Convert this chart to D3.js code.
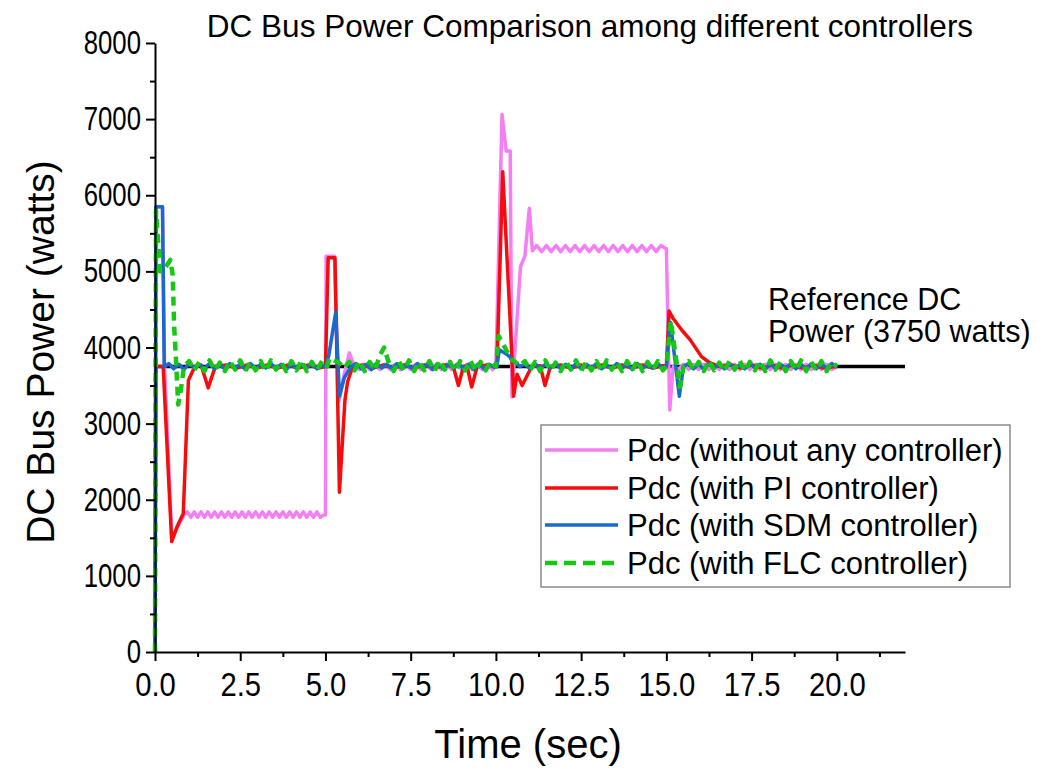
<!DOCTYPE html>
<html>
<head>
<meta charset="utf-8">
<script src="https://cdn.jsdelivr.net/npm/d3@7"></script>
<style>
  body { margin: 0; background: #fff; }
  text { font-family: "Liberation Sans", Arial, sans-serif; fill: #000; }
</style>
</head>
<body>
<div id="chart"></div>
<script>
var width = 1054,
    height = 769;

// time (sec), power (watts)
var pinkData = [
  [0,0],[0.03,5850],[0.22,5850],[0.28,3750],[0.49,1500],[0.85,1800],
  [0.95,1840],[1.05,1770],[1.15,1840],[1.25,1770],[1.35,1840],[1.45,1770],[1.55,1840],[1.65,1770],[1.75,1840],[1.85,1770],
  [1.95,1840],[2.05,1770],[2.15,1840],[2.25,1770],[2.35,1840],[2.45,1770],[2.55,1840],[2.65,1770],[2.75,1840],[2.85,1770],
  [2.95,1840],[3.05,1770],[3.15,1840],[3.25,1770],[3.35,1840],[3.45,1770],[3.55,1840],[3.65,1770],[3.75,1840],[3.85,1770],
  [3.95,1840],[4.05,1770],[4.15,1840],[4.25,1770],[4.35,1840],[4.45,1770],[4.55,1840],[4.65,1770],[4.75,1840],[4.85,1770],
  [4.95,1800],[5.0,1800],[5.02,5200],[5.26,5200],[5.4,3300],[5.55,3650],[5.7,3930],[5.85,3750],
  [6.0,3710],[6.15,3780],[6.3,3710],[6.45,3780],[6.6,3710],[6.75,3780],[6.9,3710],[7.05,3780],[7.2,3710],[7.35,3780],
  [7.5,3710],[7.65,3780],[7.8,3710],[7.95,3780],[8.1,3710],[8.25,3780],[8.4,3710],[8.55,3780],[8.7,3710],[8.85,3780],
  [9.0,3710],[9.15,3780],[9.3,3710],[9.45,3780],[9.6,3710],[9.75,3780],[9.9,3710],
  [10.0,3750],[10.18,7060],[10.3,6580],[10.42,6580],[10.47,3350],[10.72,5060],[10.85,5200],[10.98,5830],[11.07,5270],
  [11.2,5340],[11.34,5260],[11.48,5340],[11.62,5260],[11.76,5340],[11.9,5260],[12.04,5340],[12.18,5260],[12.32,5340],
  [12.46,5260],[12.6,5340],[12.74,5260],[12.88,5340],[13.02,5260],[13.16,5340],[13.3,5260],[13.44,5340],[13.58,5260],
  [13.72,5340],[13.86,5260],[14.0,5340],[14.14,5260],[14.28,5340],[14.42,5260],[14.56,5340],[14.7,5260],[14.84,5340],
  [14.98,5300],[15.0,5300],[15.1,3180],[15.2,3750],
  [15.35,3710],[15.5,3780],[15.65,3710],[15.8,3780],[15.95,3710],[16.1,3780],[16.25,3710],[16.4,3780],[16.55,3710],
  [16.7,3780],[16.85,3710],[17.0,3780],[17.15,3710],[17.3,3780],[17.45,3710],[17.6,3780],[17.75,3710],[17.9,3780],
  [18.05,3710],[18.2,3780],[18.35,3710],[18.5,3780],[18.65,3710],[18.8,3780],[18.95,3710],[19.1,3780],[19.25,3710],
  [19.4,3780],[19.55,3710],[19.7,3780],[19.85,3710],[20.0,3750]
];

var redData = [
  [0,0],[0.03,3750],[0.24,3750],[0.49,1450],[0.66,1660],[0.83,1820],[0.98,3570],[1.17,3750],[1.35,3770],[1.56,3470],[1.77,3750],
  [2.1,3770],[2.4,3730],[2.7,3770],[3.0,3730],[3.3,3770],[3.6,3730],[3.9,3770],[4.2,3730],[4.5,3770],[4.8,3730],
  [5.0,3750],[5.08,5180],[5.28,5180],[5.41,2100],[5.57,3300],[5.65,3550],[5.8,3750],
  [6.1,3770],[6.4,3730],[6.7,3770],[7.0,3730],[7.3,3770],[7.6,3730],[7.9,3770],[8.2,3730],[8.5,3770],
  [8.75,3750],[8.9,3500],[9.05,3750],[9.15,3760],[9.29,3480],[9.45,3750],[9.75,3770],
  [10.03,3750],[10.2,6310],[10.47,3880],[10.52,3360],[10.62,3650],[10.77,3500],[11.05,3750],[11.3,3760],[11.44,3500],[11.6,3750],
  [11.9,3770],[12.2,3730],[12.5,3770],[12.8,3730],[13.1,3770],[13.4,3730],[13.7,3770],[14.0,3730],[14.3,3770],[14.6,3730],[14.9,3760],
  [15.0,3750],[15.08,4480],[15.2,4380],[15.45,4230],[15.7,4100],[16.03,3880],[16.27,3800],[16.55,3750],
  [16.9,3770],[17.2,3730],[17.5,3770],[17.8,3730],[18.1,3770],[18.4,3730],[18.7,3770],[19.0,3730],[19.3,3770],[19.6,3730],[20.0,3750]
];

var blueData = [
  [0,0],[0.03,5850],[0.22,5850],[0.27,3740],
  [0.4,3790],[0.55,3720],[0.7,3780],[0.85,3710],[1.0,3790],[1.15,3730],[1.3,3780],[1.45,3720],[1.6,3790],[1.75,3720],
  [1.9,3770],[2.05,3720],[2.2,3790],[2.35,3730],[2.5,3780],[2.65,3710],[2.8,3790],[2.95,3720],[3.1,3780],[3.25,3730],
  [3.4,3790],[3.55,3720],[3.7,3780],[3.85,3710],[4.0,3790],[4.15,3720],[4.3,3780],[4.45,3730],[4.6,3790],[4.75,3720],[4.9,3770],
  [5.0,3750],[5.1,3900],[5.3,4460],[5.41,3360],[5.55,3600],[5.75,3750],
  [5.9,3790],[6.05,3720],[6.2,3780],[6.35,3710],[6.5,3790],[6.65,3730],[6.8,3780],[6.95,3720],[7.1,3790],[7.25,3720],
  [7.4,3770],[7.55,3720],[7.7,3790],[7.85,3730],[8.0,3780],[8.15,3710],[8.3,3790],[8.45,3720],[8.6,3780],[8.75,3730],
  [8.9,3790],[9.05,3720],[9.2,3780],[9.35,3710],[9.5,3790],[9.65,3720],[9.8,3780],[9.95,3740],
  [10.03,3750],[10.1,3970],[10.35,3900],[10.7,3750],
  [10.85,3780],[11.0,3720],[11.15,3790],[11.3,3720],[11.45,3780],[11.6,3730],[11.75,3790],[11.9,3720],[12.05,3780],
  [12.2,3710],[12.35,3790],[12.5,3720],[12.65,3780],[12.8,3730],[12.95,3790],[13.1,3720],[13.25,3770],[13.4,3720],
  [13.55,3790],[13.7,3730],[13.85,3780],[14.0,3710],[14.15,3790],[14.3,3720],[14.45,3780],[14.6,3730],[14.75,3790],[14.9,3720],
  [15.0,3750],[15.12,4330],[15.38,3360],[15.5,3750],
  [15.65,3790],[15.8,3720],[15.95,3780],[16.1,3710],[16.25,3790],[16.4,3730],[16.55,3780],[16.7,3720],[16.85,3790],
  [17.0,3720],[17.15,3770],[17.3,3720],[17.45,3790],[17.6,3730],[17.75,3780],[17.9,3710],[18.05,3790],[18.2,3720],
  [18.35,3780],[18.5,3730],[18.65,3790],[18.8,3720],[18.95,3780],[19.1,3710],[19.25,3790],[19.4,3720],[19.55,3780],
  [19.7,3730],[19.85,3790],[20.0,3740]
];

var greenData = [
  [0,0],[0.03,5800],[0.15,5000],[0.3,5050],[0.45,5150],[0.52,4950],[0.56,4300],[0.62,3800],[0.68,3250],[0.76,3450],[0.85,3750],
  [1.0,3820],[1.15,3700],[1.3,3810],[1.45,3690],[1.6,3830],[1.75,3700],[1.9,3800],[2.05,3690],[2.2,3820],[2.35,3710],
  [2.5,3830],[2.65,3690],[2.8,3810],[2.95,3700],[3.1,3820],[3.25,3690],[3.4,3830],[3.55,3710],[3.7,3810],[3.85,3690],
  [4.0,3820],[4.15,3700],[4.3,3830],[4.45,3690],[4.6,3810],[4.75,3700],[4.9,3820],
  [5.05,3750],[5.12,3860],[5.4,3800],[5.55,3730],
  [5.7,3810],[5.85,3700],[6.0,3820],[6.15,3690],[6.3,3810],[6.45,3700],[6.6,3900],[6.72,4000],[6.85,3810],[7.0,3690],
  [7.15,3820],[7.3,3700],[7.45,3830],[7.6,3690],[7.75,3810],[7.9,3700],[8.05,3820],[8.2,3690],[8.35,3830],[8.5,3710],
  [8.65,3810],[8.8,3690],[8.95,3820],[9.1,3700],[9.25,3830],[9.4,3690],[9.55,3810],[9.7,3700],[9.85,3820],
  [10.0,3750],[10.08,4150],[10.2,4050],[10.45,3850],[10.7,3760],
  [10.85,3820],[11.0,3700],[11.15,3810],[11.3,3690],[11.45,3830],[11.6,3700],[11.75,3800],[11.9,3690],[12.05,3820],
  [12.2,3710],[12.35,3830],[12.5,3690],[12.65,3810],[12.8,3700],[12.95,3820],[13.1,3690],[13.25,3830],[13.4,3710],
  [13.55,3810],[13.7,3690],[13.85,3820],[14.0,3700],[14.15,3830],[14.3,3690],[14.45,3810],[14.6,3700],[14.75,3820],[14.9,3700],
  [15.0,3750],[15.13,4350],[15.4,3480],[15.5,3750],
  [15.65,3820],[15.8,3700],[15.95,3810],[16.1,3690],[16.25,3830],[16.4,3700],[16.55,3800],[16.7,3690],[16.85,3820],
  [17.0,3710],[17.15,3830],[17.3,3690],[17.45,3810],[17.6,3700],[17.75,3820],[17.9,3690],[18.05,3830],[18.2,3710],
  [18.35,3810],[18.5,3690],[18.65,3820],[18.8,3700],[18.95,3830],[19.1,3690],[19.25,3810],[19.4,3700],[19.55,3820],
  [19.7,3690],[19.85,3810],[20.0,3750]
];

var refData = [[0,3750],[22,3750]];

var seriesNames = ["Pdc (without any controller)", "Pdc (with PI controller)",
                   "Pdc (with SDM controller)", "Pdc (with FLC controller)"];
var seriesColors = ["#f47ef4", "#f50d0d", "#1a69cf", "#14c814"];

var xMajor = [0, 2.5, 5, 7.5, 10, 12.5, 15, 17.5, 20];
var xMinor = [1.25, 3.75, 6.25, 8.75, 11.25, 13.75, 16.25, 18.75, 21.25];
var yMajor = [0, 1000, 2000, 3000, 4000, 5000, 6000, 7000, 8000];
var yMinor = [500, 1500, 2500, 3500, 4500, 5500, 6500, 7500];

var svg = d3.select("#chart")
    .append("svg")
    .attr("width", width)
    .attr("height", height);

svg.append("rect").attr("width", width).attr("height", height).attr("fill", "#fff");

var x = d3.scaleLinear().domain([0, 22]).range([155, 905]);
var y = d3.scaleLinear().domain([0, 8000]).range([652, 43]);

var line = d3.line()
    .x(function(d) { return x(d[0]); })
    .y(function(d) { return y(d[1]); });

// reference line behind everything
svg.append("path")
    .datum(refData)
    .attr("d", line)
    .attr("fill", "none")
    .attr("stroke", "#000")
    .attr("stroke-width", 3.5);

var allData = [pinkData, redData, blueData, greenData];

allData.forEach(function(data, i) {
  svg.append("path")
    .datum(data)
    .attr("d", line)
    .attr("fill", "none")
    .attr("stroke", seriesColors[i])
    .attr("stroke-width", i == 3 ? 4.5 : 3.5)
    .attr("stroke-linejoin", "round")
    .attr("stroke-dasharray", i == 3 ? "9,6" : null);
});

// axes
var xAxis = svg.append("g")
    .attr("transform", "translate(0,652)")
    .call(d3.axisBottom(x).tickValues(xMajor).tickSize(9).tickSizeOuter(0).tickPadding(11)
      .tickFormat(d3.format(".1f")));
svg.append("g")
    .attr("transform", "translate(0,652)")
    .call(d3.axisBottom(x).tickValues(xMinor).tickSize(5).tickSizeOuter(0).tickFormat(""))
    .select(".domain").remove();

var yAxis = svg.append("g")
    .attr("transform", "translate(155,0)")
    .call(d3.axisLeft(y).tickValues(yMajor).tickSize(9).tickSizeOuter(0).tickPadding(5)
      .tickFormat(d3.format("d")));
svg.append("g")
    .attr("transform", "translate(155,0)")
    .call(d3.axisLeft(y).tickValues(yMinor).tickSize(5).tickSizeOuter(0).tickFormat(""))
    .select(".domain").remove();

svg.selectAll(".domain").attr("stroke-width", 2);
svg.selectAll(".tick line").attr("stroke-width", 2);

// tick labels in the picture are narrow and tall
xAxis.selectAll("text")
    .style("font-size", "34px")
    .attr("fill", "#000")
    .attr("transform", "scale(0.86,1)");
yAxis.selectAll("text")
    .style("font-size", "33px")
    .attr("fill", "#000")
    .attr("x", -14 / 0.78)
    .attr("transform", "scale(0.78,1)");

// titles
svg.append("text")
    .attr("x", 590).attr("y", 37)
    .attr("text-anchor", "middle")
    .style("font-size", "31.5px")
    .text("DC Bus Power Comparison among different controllers");

svg.append("text")
    .attr("transform", "translate(54,352) rotate(-90)")
    .attr("text-anchor", "middle")
    .style("font-size", "39px")
    .text("DC Bus Power (watts)");

svg.append("text")
    .attr("x", 528).attr("y", 758)
    .attr("text-anchor", "middle")
    .style("font-size", "40px")
    .text("Time (sec)");

svg.append("text").attr("x", 768).attr("y", 310).style("font-size", "30.5px").text("Reference DC");
svg.append("text").attr("x", 768).attr("y", 342).style("font-size", "30.5px").text("Power (3750 watts)");

// legend
var legend = svg.append("g");
legend.append("rect")
    .attr("x", 541).attr("y", 425)
    .attr("width", 469).attr("height", 162)
    .attr("fill", "#fff")
    .attr("stroke", "#8a8a8a")
    .attr("stroke-width", 1.5);

var rowY = [450, 488, 525, 563];
seriesNames.forEach(function(name, i) {
  legend.append("line")
    .attr("x1", 545).attr("x2", 618)
    .attr("y1", rowY[i]).attr("y2", rowY[i])
    .attr("stroke", seriesColors[i])
    .attr("stroke-width", i == 3 ? 4.5 : 3.5)
    .attr("stroke-dasharray", i == 3 ? "12,7" : null);
  legend.append("text")
    .attr("x", 627).attr("y", rowY[i] + 11)
    .style("font-size", "31px")
    .text(name);
});
</script>
</body>
</html>
